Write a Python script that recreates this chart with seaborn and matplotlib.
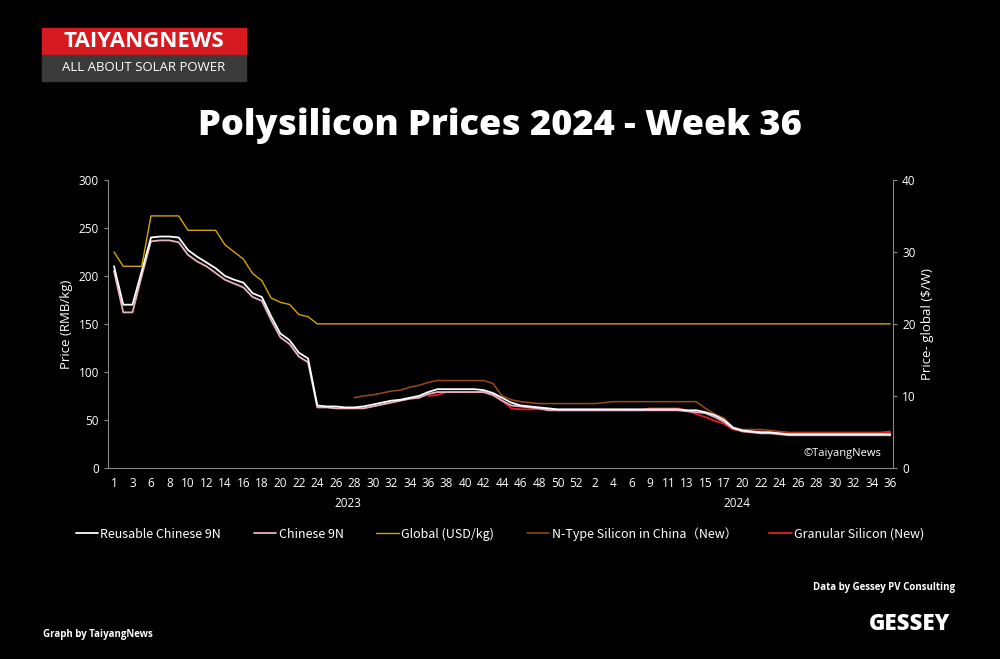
import numpy as np
import pandas as pd
import matplotlib
matplotlib.use("Agg")
import matplotlib.pyplot as plt
import seaborn as sns
from matplotlib.patches import Rectangle

sns.set_style("dark")
plt.rcParams['font.family'] = ['Open Sans', 'DejaVu Sans']

# week categories: 2023 (week 4 missing), 2024 (weeks 7 and 18 missing)
weeks = [1, 2, 3] + list(range(5, 53)) + list(range(1, 7)) + list(range(8, 18)) + list(range(19, 37))
nan = np.nan

white = [210, 170, 170, 205, 240, 241, 241, 240, 227, 220,
         214, 208, 200, 196, 193, 182, 178, 158, 140, 133,
         120, 114, 65, 64, 64, 63, 63, 64, 66, 68,
         70, 71, 73, 75, 79, 82, 82, 82, 82, 82,
         81, 78, 73, 68, 65, 64, 63, 62, 61, 61,
         61, 61, 61, 61, 61, 61, 61, 61, 61, 61,
         61, 61, 60, 60, 58, 55, 50, 42, 39,
         38, 37, 37, 36, 35, 35, 35, 35, 35, 35,
         35, 35, 35, 35, 35, 35]
pink = [205, 162, 162, 200, 236, 237, 237, 235, 222, 215,
        210, 203, 196, 192, 188, 178, 174, 154, 136, 129,
        116, 110, 63, 63, 62, 62, 62, 62, 64, 66,
        68, 70, 72, 73, 77, 79, 79, 79, 79, 79,
        79, 76, 70, 65, 64, 63, 62, 60, 60, 60,
        60, 60, 60, 60, 60, 60, 60, 60, 60, 60,
        60, 60, 59, 58, 57, 53, 48, 41, 38,
        37, 36, 36, 35, 34, 34, 34, 34, 34, 34,
        34, 34, 34, 34, 34, 34]
glob = [30, 28, 28, 28, 35, 35, 35, 35, 33, 33,
        33, 33, 31, 30, 29, 27, 26, 23.6, 23, 22.7,
        21.3, 21] + [20] * 63
ntype = [nan] * 26 + [73, 75, 76, 78, 80, 81, 84, 86, 89, 91,
                      91, 91, 91, 91, 91, 88, 75, 71, 69, 68,
                      67, 67, 67, 67, 67, 67, 67, 68, 69, 69,
                      69, 69, 69, 69, 69, 69, 69, 69, 62, 56,
                      52, 42, 40, 40, 40, 39, 38] + [37] * 11 + [38]
granular = [nan] * 34 + [75, 76, 79, 79, 79, 79, 79, 76, 70, 62,
                         61, 61, 61, 61, 60, 60, 60, 60, 60, 60,
                         60, 60, 60, 60, 62, 62, 62, 62, 60, 56,
                         53, 49, 46, 40, 39, 38, 38, 37] + [36] * 12 + [37]

df = pd.DataFrame({"idx": np.arange(len(weeks)), "white": white, "pink": pink,
                   "glob": glob, "ntype": ntype, "granular": granular})

fig = plt.figure(figsize=(10, 6.59), dpi=100, facecolor="black")
ax = fig.add_axes([0.108, 0.290, 0.785, 0.437], facecolor="black")
ax2 = ax.twinx()

sns.lineplot(data=df, x="idx", y="ntype", ax=ax, color="#9c4a16", lw=1.1, label="N-Type Silicon in China（New）", legend=False)
sns.lineplot(data=df, x="idx", y="granular", ax=ax, color="#e0202a", lw=1.3, label="Granular Silicon (New)", legend=False)
sns.lineplot(data=df, x="idx", y="pink", ax=ax, color="#e8b0c8", lw=1.3, label="Chinese 9N", legend=False)
sns.lineplot(data=df, x="idx", y="white", ax=ax, color="white", lw=1.3, label="Reusable Chinese 9N", legend=False)
sns.lineplot(data=df, x="idx", y="glob", ax=ax2, color="#d4a20a", lw=1.0, label="Global (USD/kg)", legend=False)

ax.set_xlim(-0.65, 84.3)
ax.set_ylim(0, 300)
ax2.set_ylim(0, 40)
ax.set_yticks(range(0, 301, 50))
ax2.set_yticks(range(0, 41, 10))
ax.set_xticks(df["idx"][::2])
ax.set_xticklabels([str(w) for w in weeks[::2]])
ax.grid(False)
ax2.grid(False)
for a in (ax, ax2):
    a.tick_params(colors="white", labelsize=8.5, length=3, color="#888888")
    for s in a.spines.values():
        s.set_visible(False)
ax.spines["left"].set_visible(True)
ax.spines["bottom"].set_visible(True)
ax2.spines["right"].set_visible(True)
for s in (ax.spines["left"], ax.spines["bottom"], ax2.spines["right"]):
    s.set_color("#888888")
ax.set_xlabel("")
ax.set_ylabel("Price (RMB/kg)", color="white", fontsize=9.5)
ax2.set_ylabel("Price- global ($/W)", color="white", fontsize=9.5)
ax.text(25.3, -0.135, "2023", transform=ax.get_xaxis_transform(), color="white", fontsize=8.5, ha="center")
ax.text(67.4, -0.135, "2024", transform=ax.get_xaxis_transform(), color="white", fontsize=8.5, ha="center")
ax.text(0.985, 0.04, "©TaiyangNews", transform=ax.transAxes, color="white", fontsize=8, ha="right")

order = ["Reusable Chinese 9N", "Chinese 9N", "Global (USD/kg)", "N-Type Silicon in China（New）", "Granular Silicon (New)"]
hs = {l.get_label(): l for l in ax.get_lines() + ax2.get_lines()}
leg = fig.legend([hs[k] for k in order], order, loc="center", bbox_to_anchor=(0.5, 0.19), ncol=5,
                 frameon=False, labelcolor="white", handlelength=1.8, columnspacing=2.6, handletextpad=0.2,
                 prop={"family": ["Noto Sans CJK SC", "DejaVu Sans"], "size": 9})

fig.text(0.5, 0.795, "Polysilicon Prices 2024 - Week 36", color="white", fontsize=26, fontweight="heavy", ha="center")

# logo
fig.patches.append(Rectangle((0.042, 0.917), 0.204, 0.04, transform=fig.transFigure, color="#d71920"))
fig.patches.append(Rectangle((0.042, 0.877), 0.204, 0.04, transform=fig.transFigure, color="#3a3a3a"))
fig.text(0.144, 0.937, "TAIYANGNEWS", color="white", fontsize=16, fontweight="bold", ha="center", va="center")
fig.text(0.144, 0.897, "ALL ABOUT SOLAR POWER", color="white", fontsize=9.5, ha="center", va="center")

fig.text(0.955, 0.105, "Data by Gessey PV Consulting", color="white", fontsize=7, fontweight="bold", ha="right")
fig.text(0.043, 0.033, "Graph by TaiyangNews", color="white", fontsize=7, fontweight="bold", ha="left")
fig.text(0.91, 0.053, "GESSEY", color="white", fontsize=16, fontweight="heavy", ha="center", va="center")

fig.savefig("out.png", dpi=100, facecolor="black")
